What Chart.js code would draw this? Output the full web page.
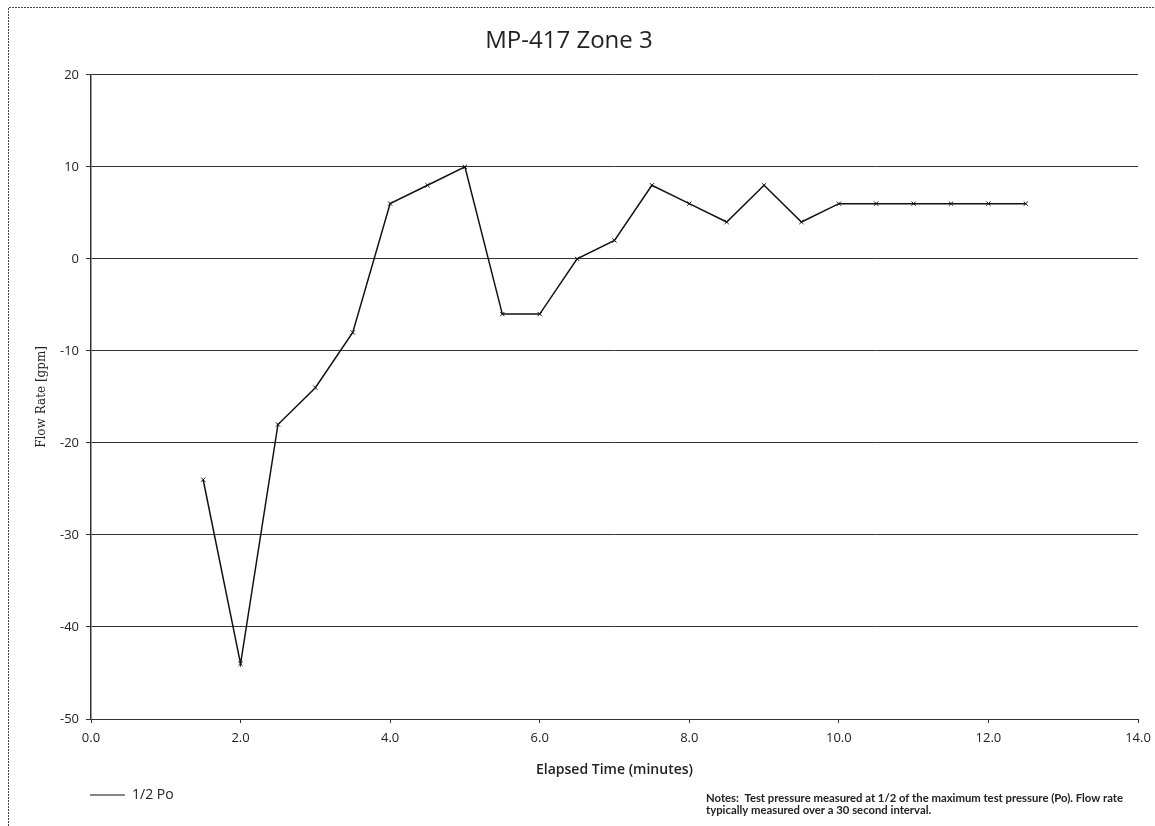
<!DOCTYPE html>
<html>
<head>
<meta charset="utf-8">
<script src="https://cdn.jsdelivr.net/npm/chart.js@4.4.1/dist/chart.umd.min.js"></script>
<style>
  html, body { margin: 0; padding: 0; background: #fff; }
  #wrap { width: 1155px; height: 826px; }
</style>
</head>
<body>
<div id="wrap"><canvas id="myChart" width="1155" height="826"></canvas></div>
<script>
// Datos
const elapsedTime = [1.5, 2.0, 2.5, 3.0, 3.5, 4.0, 4.5, 5.0, 5.5, 6.0, 6.5, 7.0, 7.5, 8.0, 8.5, 9.0, 9.5, 10.0, 10.5, 11.0, 11.5, 12.0, 12.5]
const flowRate = [-24, -44, -18, -14, -8, 6, 8, 10, -6, -6, 0, 2, 8, 6, 4, 8, 4, 6, 6, 6, 6, 6, 6]
const seriesLabel = '1/2 Po'
const chartTitle = 'MP-417 Zone 3'
const xTitle = 'Elapsed Time (minutes)'
const yTitle = 'Flow Rate [gpm]'
const notes = [
  'Notes:  Test pressure measured at 1/2 of the maximum test pressure (Po). Flow rate',
  'typically measured over a 30 second interval.',
]

const points = elapsedTime.map((t, i) => ({ x: t, y: flowRate[i] }))

// Marco y notas
const extras = {
  id: 'extras',
  afterLayout(chart) {
    // mover la leyenda a la izquierda, bajo el eje
    const lg = chart.legend
    lg.left = 86
    lg.top = 784
  },
  afterDraw(chart) {
    const c = chart.ctx
    c.save()
    c.strokeStyle = '#444'
    c.lineWidth = 1
    c.setLineDash([2, 1])
    c.beginPath()
    c.moveTo(8.5, 826)
    c.lineTo(8.5, 7.5)
    c.lineTo(1155, 7.5)
    c.stroke()
    c.setLineDash([])
    c.fillStyle = '#222'
    c.font = 'bold 11.3px Lato'
    c.textBaseline = 'middle'
    c.fillText(notes[0], 706, 798)
    c.fillText(notes[1], 706, 810)
    c.restore()
  },
}

const ctx = document.getElementById('myChart').getContext('2d')

const myChart = new Chart(ctx, {
  type: 'line',
  data: {
    datasets: [
      {
        label: seriesLabel,
        data: points,
        borderColor: '#111',
        backgroundColor: '#111',
        borderWidth: 1.5,
        tension: 0,
        pointStyle: 'crossRot',
        pointRadius: 3,
        pointBorderWidth: 1,
        pointBorderColor: '#111',
      },
    ],
  },
  options: {
    responsive: false,
    animation: false,
    layout: { padding: { left: 0, right: 17, top: 0, bottom: 0 } },
    plugins: {
      title: {
        display: true,
        text: chartTitle,
        color: '#222',
        font: { family: 'Open Sans', size: 24, weight: 'normal' },
        padding: { top: 27, bottom: 19 },
      },
      legend: {
        display: true,
        position: 'bottom',
        align: 'start',
        labels: {
          usePointStyle: true,
          pointStyle: 'line',
          pointStyleWidth: 35,
          color: '#222',
          font: { family: 'Open Sans', size: 14 },
          padding: 4,
        },
      },
      tooltip: { enabled: false },
    },
    scales: {
      x: {
        type: 'linear',
        min: 0,
        max: 14,
        ticks: {
          stepSize: 2,
          color: '#222',
          font: { family: 'Open Sans', size: 13 },
          padding: 7,
          maxRotation: 0,
          callback: (v) => v.toFixed(1),
        },
        grid: { drawOnChartArea: false, drawTicks: true, tickLength: 4, color: '#333' },
        border: { color: '#333', width: 1 },
        title: {
          display: true,
          text: xTitle,
          color: '#222',
          font: { family: 'Open Sans', size: 14, weight: '600' },
          padding: { top: 7, bottom: 20 },
        },
        afterFit: (scale) => {
          scale.height = 79
          scale.paddingRight = 0
        },
      },
      y: {
        min: -50,
        max: 20,
        ticks: {
          stepSize: 10,
          color: '#222',
          font: { family: 'Open Sans', size: 13 },
          padding: 7,
        },
        grid: { color: '#333', lineWidth: 1, tickLength: 5 },
        border: { color: '#333', width: 1.5 },
        title: {
          display: true,
          text: yTitle,
          color: '#222',
          font: { family: 'DejaVu Serif', size: 12 },
          padding: { top: 35, bottom: 0 },
        },
        afterFit: (scale) => { scale.width = 91 },
      },
    },
  },
  plugins: [extras],
})
</script>
</body>
</html>
